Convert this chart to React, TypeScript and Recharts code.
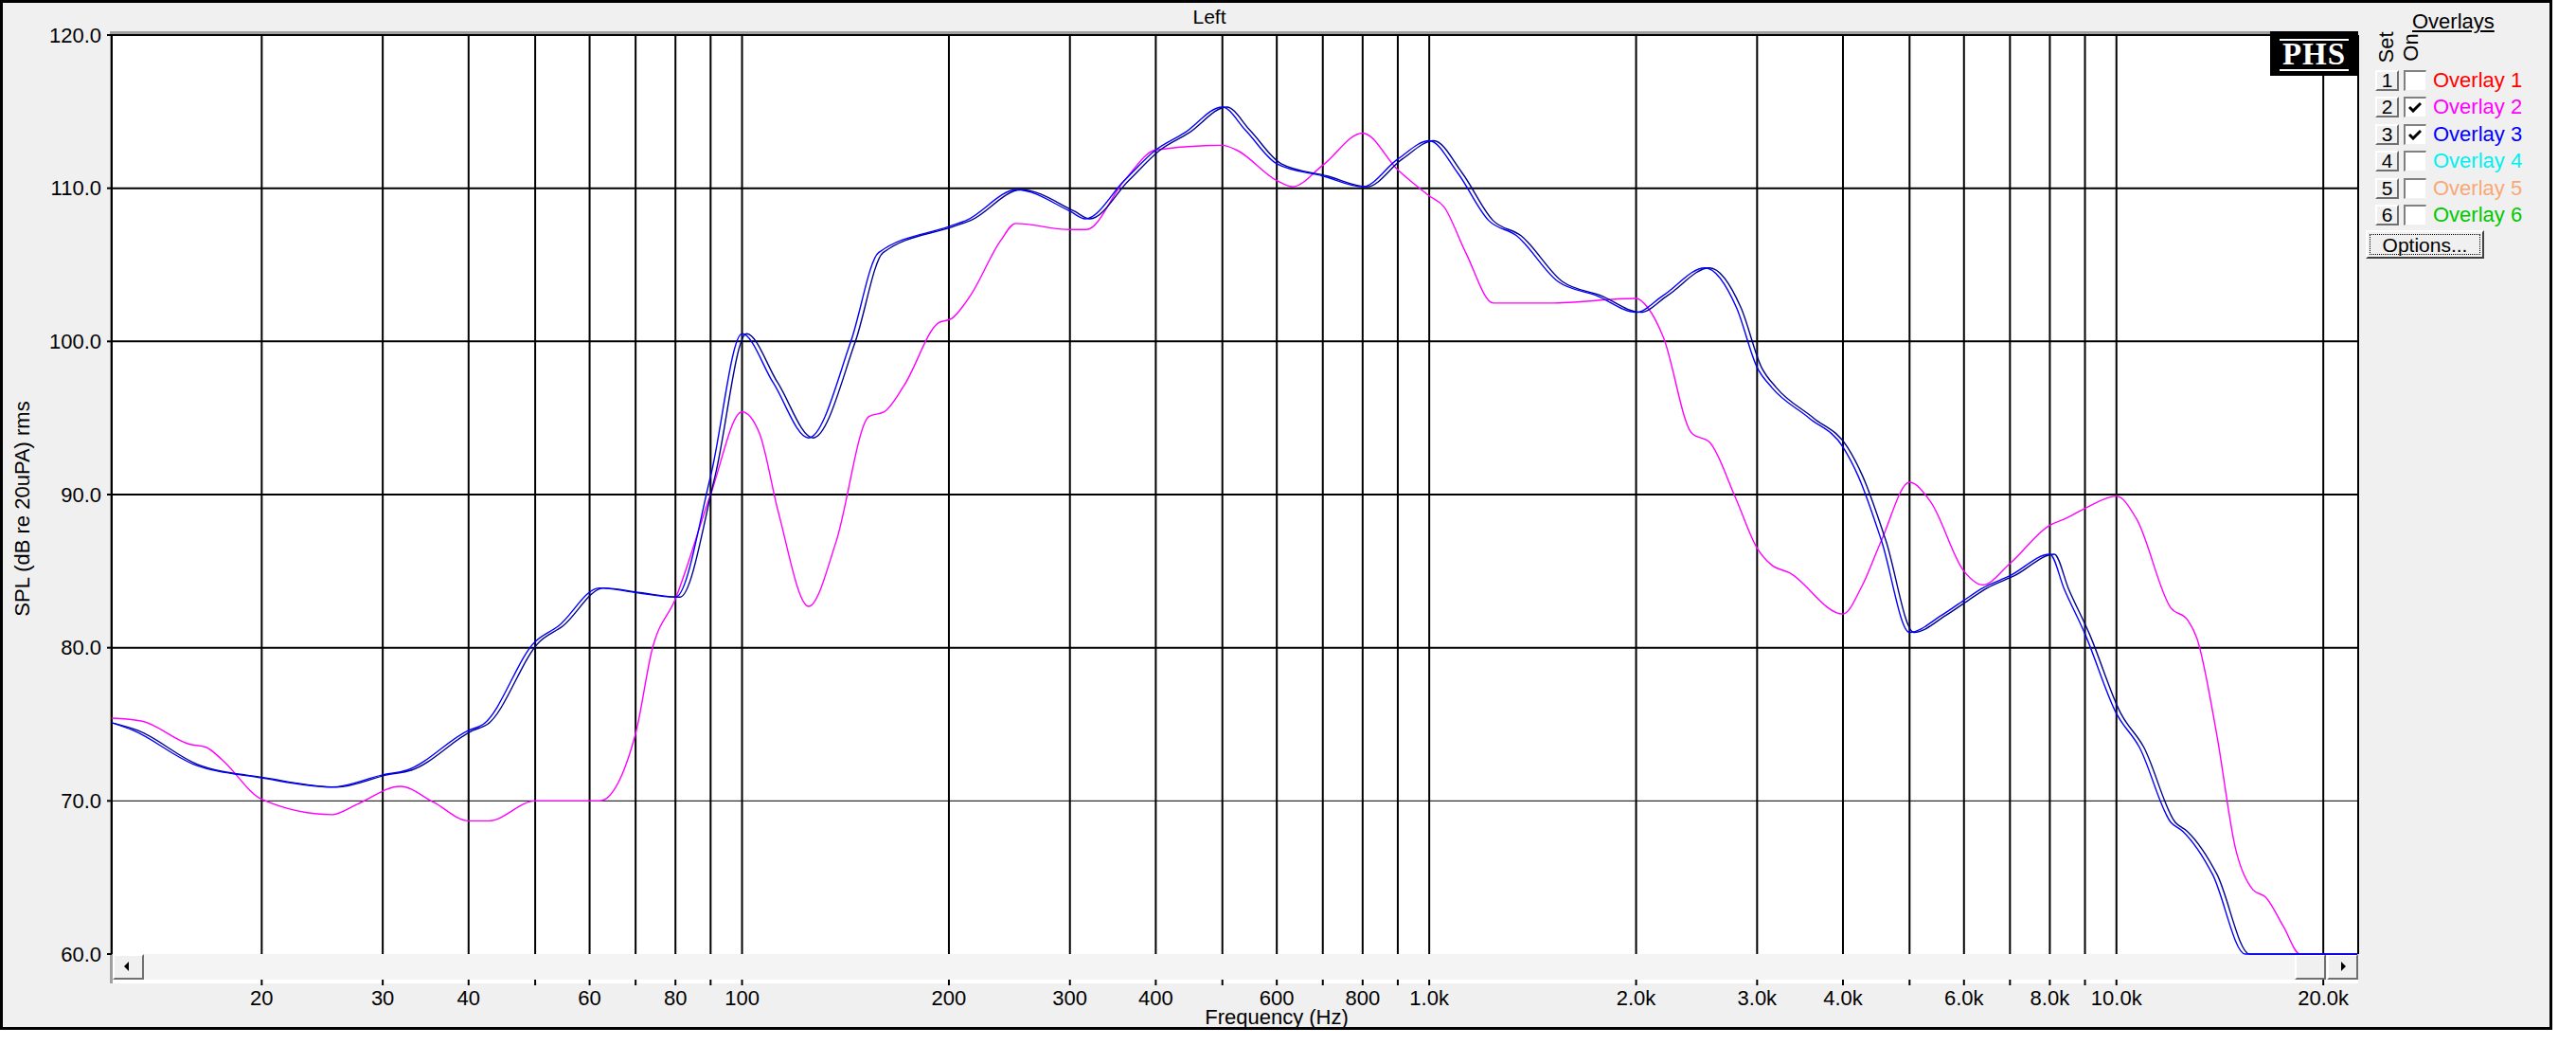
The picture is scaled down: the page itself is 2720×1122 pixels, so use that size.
import React from 'react';
import { LineChart, Line, XAxis, YAxis, CartesianGrid, ReferenceLine } from 'recharts';

const FONT = '"Liberation Sans", Arial, sans-serif';

// overlay 3 (blue pair)
const blueFreq = [12.1, 13, 15.9, 20, 25.3, 30, 32.5, 40, 42, 50, 54, 62, 70, 80, 90, 100, 111, 125, 144, 158, 200, 212, 251, 300, 316, 360, 400, 440, 500, 540, 600, 700, 800, 900, 1000, 1100, 1220, 1340, 1540, 1750, 2000, 2190, 2520, 2800, 3000, 3150, 3570, 4000, 4210, 4550, 5000, 5560, 6000, 6390, 7000, 8000, 8400, 9000, 10000, 10800, 12000, 12500, 13800, 15400, 22400];
const blueFreqB = [12.1, 13.2, 16.1, 20.3, 25.7, 30.45, 33, 40.6, 42.6, 50.75, 54.8, 62.9, 71, 81.2, 91.35, 101.5, 112.7, 126.9, 146.2, 160.4, 203, 215.2, 254.8, 304.5, 320.7, 365.4, 406, 446.6, 507.5, 548.1, 609, 710.5, 812, 913.5, 1015, 1116.5, 1238, 1360, 1563, 1776, 2030, 2223, 2558, 2842, 3045, 3197, 3624, 4060, 4273, 4618, 5075, 5643, 6090, 6486, 7105, 8120, 8526, 9135, 10150, 10962, 12180, 12688, 14007, 15631, 22400];
const blueDb = [75.1, 74.6, 72.4, 71.5, 70.9, 71.7, 72.0, 74.6, 75.0, 80.4, 81.4, 83.9, 83.6, 83.3, 91.2, 100.5, 97.3, 93.7, 100.0, 105.8, 107.5, 107.9, 109.9, 108.5, 108.0, 110.5, 112.5, 113.6, 115.3, 113.8, 111.6, 110.8, 110.1, 111.9, 113.1, 111.0, 107.9, 106.9, 103.9, 103.0, 101.9, 103.0, 104.8, 102.2, 98.3, 97.0, 95.0, 93.1, 91.2, 87.0, 81.0, 82.1, 83.1, 83.9, 84.7, 86.1, 83.8, 80.9, 75.7, 73.5, 68.6, 68.0, 65.2, 60.0, 60.0];

// overlay 2 (magenta)
const magFreq = [12.1, 13.4, 15.7, 16.6, 17.5, 20, 25.3, 27.6, 31.8, 35.6, 40, 42.8, 50, 62, 70, 74, 80, 90, 100, 106, 113, 125, 137, 153, 161, 172, 193, 202, 215, 238, 250, 300, 317, 360, 400, 500, 524, 600, 632, 700, 800, 900, 1000, 1050, 1130, 1240, 1500, 2000, 2080, 2190, 2410, 2560, 2790, 3000, 3150, 3340, 4000, 4260, 4550, 5000, 5370, 6000, 6390, 7000, 8000, 8400, 9000, 10000, 10700, 12000, 12700, 13100, 14000, 14900, 15800, 16500, 17500, 18500, 22400];
const magDb = [75.4, 75.2, 73.7, 73.5, 72.7, 70.1, 69.1, 69.8, 70.95, 69.9, 68.7, 68.7, 70.0, 70.0, 74.4, 79.9, 83.2, 90.0, 95.4, 94.0, 88.8, 82.7, 86.9, 95.1, 95.4, 97.1, 101.2, 101.5, 103.0, 106.6, 107.7, 107.3, 107.3, 110.5, 112.5, 112.8, 112.5, 110.5, 110.1, 111.5, 113.6, 111.2, 109.5, 108.8, 105.8, 102.5, 102.5, 102.8, 102.2, 100.3, 94.0, 93.4, 89.8, 86.5, 85.4, 84.9, 82.2, 84.0, 87.0, 90.8, 89.5, 85.0, 84.1, 85.5, 88.0, 88.4, 89.1, 89.9, 88.4, 82.6, 81.8, 80.6, 74.3, 66.9, 64.2, 63.7, 61.8, 60.0, 60.0];

const xTicks = [20, 30, 40, 50, 60, 70, 80, 90, 100, 200, 300, 400, 500, 600, 700, 800, 900, 1000, 2000, 3000, 4000, 5000, 6000, 7000, 8000, 9000, 10000, 20000];
const xTickLabels = ['20', '30', '40', '', '60', '', '80', '', '100', '200', '300', '400', '', '600', '', '800', '', '1.0k', '2.0k', '3.0k', '4.0k', '', '6.0k', '', '8.0k', '', '10.0k', '20.0k'];
const yTicks = [60, 70, 80, 90, 100, 110, 120];
const yGrid = [70, 80, 90, 100, 110, 120];

const overlayNames = ['Overlay 1', 'Overlay 2', 'Overlay 3', 'Overlay 4', 'Overlay 5', 'Overlay 6'];
const overlayColors = ['#ff0000', '#ff00ff', '#0000ff', '#00f0f0', '#f8a878', '#00c800'];
const overlayOn = [false, true, true, false, false, false];

const blueA = blueFreq.map((f, i) => ({ f, db: blueDb[i] }));
const blueB = blueFreqB.map((f, i) => ({ f, db: blueDb[i] }));
const magenta = magFreq.map((f, i) => ({ f, db: magDb[i] }));

const abs = (s: React.CSSProperties): React.CSSProperties => ({ position: 'absolute', ...s });

const raised: React.CSSProperties = {
  background: '#f0f0f0',
  borderTop: '2px solid #fff',
  borderLeft: '2px solid #fff',
  borderRight: '2px solid #707070',
  borderBottom: '2px solid #707070',
  boxSizing: 'border-box',
};

const XTick = (props: any) => {
  const { x, y, payload } = props;
  const idx = xTicks.indexOf(payload.value);
  const label = idx >= 0 ? xTickLabels[idx] : '';
  return (
    <g>
      <line x1={x} x2={x} y1={y + 27} y2={y + 33} stroke="#000" strokeWidth={2} />
      {label && (
        <text x={x} y={y + 46} textAnchor="middle" dominantBaseline="central" fill="#000" fontSize={22} fontFamily={FONT}>
          {label}
        </text>
      )}
    </g>
  );
};

const Check = () => (
  <svg width={14} height={12} style={{ position: 'absolute', left: 3, top: 3 }}>
    <polyline points="1,6 5,10 13,2" fill="none" stroke="#000" strokeWidth={3} />
  </svg>
);

export default function App() {
  return (
    <div style={abs({ left: 0, top: 0, width: 2720, height: 1122, background: '#fff', fontFamily: FONT, color: '#000', overflow: 'hidden' })}>
      {/* frame */}
      <div style={abs({ left: 0, top: 0, width: 2695, height: 1087, border: '3px solid #000', boxSizing: 'border-box', background: '#f0f0f0' })} />
      <div style={abs({ left: 1277, top: 18, transform: 'translate(-50%,-50%)', fontSize: 21 })}>Left</div>

      {/* plot background + sunken border */}
      <div style={abs({ left: 116, top: 33, width: 2374, height: 3, background: '#a0a0a0' })} />
      <div style={abs({ left: 116, top: 33, width: 3, height: 1005, background: '#a0a0a0' })} />
      <div style={abs({ left: 119, top: 36, width: 2371, height: 1002, background: '#fff' })} />

      {/* scrollbar */}
      <div style={abs({ left: 119, top: 1007, width: 2371, height: 27, background: '#f4f4f4' })} />
      <div style={abs({ left: 119, top: 1007, width: 33, height: 27, ...raised })}>
        <svg width={29} height={23} style={{ position: 'absolute', left: 0, top: 0 }}>
          <polygon points="10,11 15,6 15,16" fill="#000" />
        </svg>
      </div>
      <div style={abs({ left: 2423, top: 1007, width: 33, height: 27, ...raised })} />
      <div style={abs({ left: 2457, top: 1007, width: 33, height: 27, ...raised })}>
        <svg width={29} height={23} style={{ position: 'absolute', left: 0, top: 0 }}>
          <polygon points="18,11 13,6 13,16" fill="#000" />
        </svg>
      </div>

      <div style={abs({ left: 0, top: 0 })}>
        <LineChart width={2720} height={1122} margin={{ top: 37, right: 230, bottom: 70, left: 8 }}>
          <CartesianGrid horizontal={false} vertical={true} stroke="#000" strokeWidth={2} />
          {yGrid.map((v) => (
            <ReferenceLine key={v} y={v} stroke="#000" strokeWidth={v === 70 ? 1 : 2} />
          ))}
          <XAxis
            dataKey="f"
            type="number"
            scale="log"
            domain={[12.1, 22480]}
            allowDataOverflow
            ticks={xTicks}
            interval={0}
            height={45}
            axisLine={false}
            tickLine={false}
            tickSize={0}
            tickMargin={0}
            tick={<XTick />}
          />
          <YAxis
            type="number"
            domain={[60, 120]}
            ticks={yTicks}
            width={110}
            axisLine={false}
            tickLine={{ stroke: '#000', strokeWidth: 2 }}
            tickSize={5}
            tickMargin={6}
            tickFormatter={(v: number) => v.toFixed(1)}
            tick={{ fill: '#000', fontSize: 22, fontFamily: FONT }}
          />
          <Line data={magenta} dataKey="db" type="monotone" stroke="#ff00ff" strokeWidth={1.4} dot={false} activeDot={false} isAnimationActive={false} />
          <Line data={blueB} dataKey="db" type="monotone" stroke="#000090" strokeWidth={1.4} dot={false} activeDot={false} isAnimationActive={false} />
          <Line data={blueA} dataKey="db" type="monotone" stroke="#0000ff" strokeWidth={1.4} dot={false} activeDot={false} isAnimationActive={false} />
        </LineChart>
      </div>

      {/* axis titles */}
      <div style={abs({ left: 24, top: 537, transform: 'translate(-50%,-50%) rotate(-90deg)', fontSize: 22, whiteSpace: 'nowrap' })}>
        SPL (dB re 20uPA) rms
      </div>
      <div style={abs({ left: 1348, top: 1074, transform: 'translate(-50%,-50%)', fontSize: 22, whiteSpace: 'nowrap' })}>
        Frequency (Hz)
      </div>

      {/* PHS logo */}
      <div style={abs({ left: 2397, top: 33, width: 93, height: 47, background: '#000' })}>
        <div style={abs({ left: 10, top: 8, width: 73, height: 2, background: '#fff' })} />
        <div style={abs({ left: 10, top: 40, width: 73, height: 2, background: '#fff' })} />
        <div style={abs({ left: 0, top: 24, width: 93, transform: 'translateY(-50%)', textAlign: 'center', color: '#fff', fontFamily: '"Liberation Serif", serif', fontWeight: 'bold', fontSize: 33, letterSpacing: 1, lineHeight: '33px' })}>
          PHS
        </div>
      </div>

      {/* overlay legend */}
      <div style={abs({ left: 2547, top: 23, transform: 'translateY(-50%)', fontSize: 22, textDecoration: 'underline' })}>Overlays</div>
      <div style={abs({ left: 2520, top: 50, transform: 'translate(-50%,-50%) rotate(-90deg)', fontSize: 22 })}>Set</div>
      <div style={abs({ left: 2546, top: 50, transform: 'translate(-50%,-50%) rotate(-90deg)', fontSize: 22 })}>On</div>
      {overlayNames.map((name, i) => {
        const cy = 85 + i * 28.4;
        return (
          <React.Fragment key={name}>
            <div style={abs({ left: 2508, top: cy - 11, width: 25, height: 22, ...raised, fontSize: 21, lineHeight: '18px', textAlign: 'center' })}>
              {i + 1}
            </div>
            <div style={abs({ left: 2538, top: cy - 11, width: 24, height: 22, background: '#fff', borderTop: '2px solid #808080', borderLeft: '2px solid #808080', borderRight: '1px solid #f0f0f0', borderBottom: '1px solid #f0f0f0', boxSizing: 'border-box' })}>
              {overlayOn[i] && <Check />}
            </div>
            <div style={abs({ left: 2569, top: cy, transform: 'translateY(-50%)', fontSize: 22, color: overlayColors[i], whiteSpace: 'nowrap' })}>
              {name}
            </div>
          </React.Fragment>
        );
      })}
      <div style={abs({ left: 2498, top: 243, width: 125, height: 30, ...raised, borderRight: '2px solid #404040', borderBottom: '2px solid #404040' })}>
        <div style={abs({ left: 2, top: 2, right: 2, bottom: 2, border: '1px dotted #000', fontSize: 21, lineHeight: '22px', textAlign: 'center' })}>
          Options...
        </div>
      </div>
    </div>
  );
}
